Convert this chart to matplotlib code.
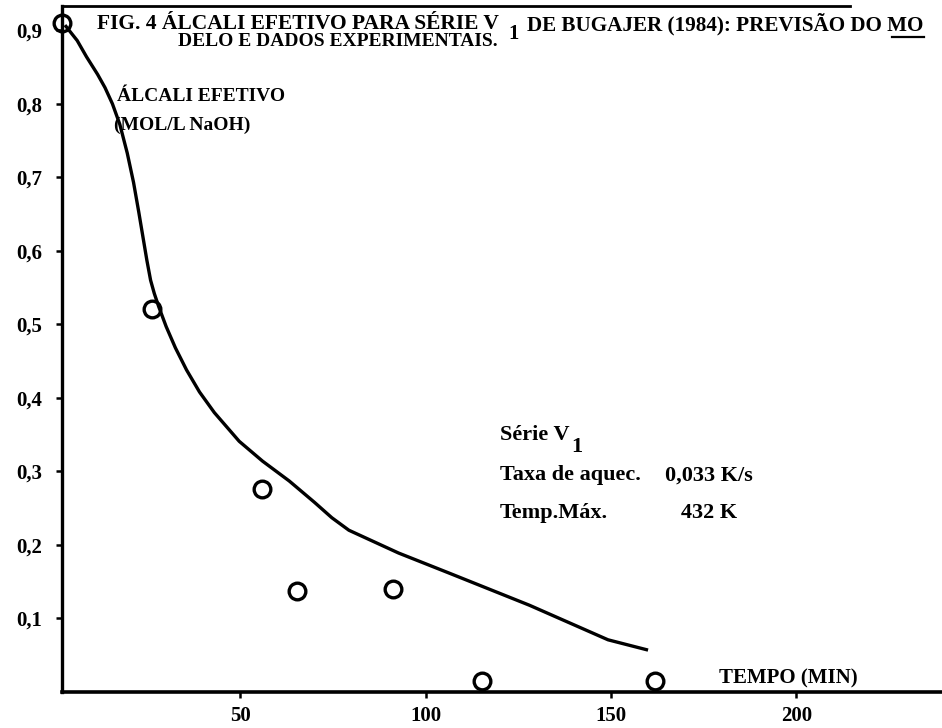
import matplotlib
matplotlib.use("Agg")
import matplotlib.pyplot as plt
from matplotlib.lines import Line2D

plt.rcParams['font.family'] = ['Liberation Serif', 'DejaVu Serif']
plt.rcParams['font.weight'] = 'bold'

# experimental data, serie V1 (Bugajer 1984)
tempo_exp = [1.9, 26.3, 55.8, 65.4, 91.1, 115.1, 162.0]
alcali_exp = [0.910, 0.521, 0.276, 0.138, 0.140, 0.015, 0.015]

# model prediction
tempo_mod = [2.7, 6.0, 8.5, 11.5, 13.5, 15.5, 17.5, 19.5, 21.2, 22.6, 23.8,
             24.8, 25.8, 26.8, 28.0, 30.0, 32.5, 35.5, 39.0, 43.0, 49.7,
             56.0, 63.2, 70.0, 74.7, 79.3, 92.7, 106.2, 128.0, 149.2, 160.0]
alcali_mod = [0.907, 0.886, 0.864, 0.840, 0.822, 0.800, 0.772, 0.733, 0.693,
              0.653, 0.617, 0.587, 0.560, 0.542, 0.524, 0.497, 0.468, 0.438,
              0.408, 0.380, 0.341, 0.314, 0.287, 0.258, 0.237, 0.220, 0.189,
              0.162, 0.118, 0.071, 0.057]

yticks = [0.1, 0.2, 0.3, 0.4, 0.5, 0.6, 0.7, 0.8, 0.9]
xticks = [50, 100, 150, 200]

W, H = 942, 728
fig = plt.figure(figsize=(W / 100, H / 100), dpi=100)
ax = fig.add_axes([62 / W, 36 / H, 880 / W, 686 / H])

ax.plot(tempo_mod, alcali_mod, color='black', lw=2.4, solid_capstyle='butt',
        solid_joinstyle='round')
ax.plot(tempo_exp, alcali_exp, 'o', ms=12, mfc='none', mec='black', mew=2.4,
        clip_on=False, zorder=3)

ax.set_xlim(1.9, 239.3)
ax.set_ylim(0, 0.933)
ax.set_xticks(xticks)
ax.set_xticklabels([str(v) for v in xticks])
ax.set_yticks(yticks)
ax.set_yticklabels([('%.1f' % v).replace('.', ',') for v in yticks])
ax.tick_params(axis='both', direction='out', length=4, width=1.8,
               labelsize=15, color='black')
ax.tick_params(axis='y', pad=10)
ax.tick_params(axis='x', pad=6)
ax.spines['right'].set_visible(False)
ax.spines['top'].set_visible(False)
ax.spines['left'].set_linewidth(2.4)
ax.spines['bottom'].set_linewidth(2.6)
# top frame line, stops short of the right edge
ax.add_line(Line2D([0, 0.895], [1, 1], transform=ax.transAxes, color='black',
                   lw=2.0, clip_on=False))


def px(x, y):
    return x / W, 1 - y / H


fig.canvas.draw()
r = fig.canvas.get_renderer()

# title, first line in pieces so V gets its dropped subscript
t1 = fig.text(*px(97, 24), 'FIG. 4 ÁLCALI EFETIVO PARA SÉRIE V', fontsize=15.5,
              va='center', ha='left')
bb = t1.get_window_extent(r)
sub = fig.text(bb.x1 / W + 10 / W, 1 - 34 / H, '1', fontsize=15, va='center')
bb2 = sub.get_window_extent(r)
t2 = fig.text(bb2.x1 / W + 8 / W, 1 - 24 / H, 'DE BUGAJER (1984): PREVISÃO DO MO',
              fontsize=15.2, va='center', ha='left')
bb3 = t2.get_window_extent(r)
fig.add_artist(Line2D([bb3.x1 / W - 32 / W, bb3.x1 / W], [1 - 37 / H, 1 - 37 / H],
                      color='black', lw=1.6, transform=fig.transFigure))
fig.text(*px(178, 42), 'DELO E DADOS EXPERIMENTAIS.', fontsize=14, va='center')

ax.text(16.8, 0.810, 'ÁLCALI EFETIVO', fontsize=14, va='center')
ax.text(16.0, 0.771, '(MOL/L NaOH)', fontsize=14, va='center')

fs = 16
s1 = ax.text(120.0, 0.350, 'Série V', fontsize=fs, va='center')
bs = s1.get_window_extent(r)
fig.text(bs.x1 / W + 2 / W, bs.y0 / H - 2 / H, '1', fontsize=fs, va='center')
ax.text(120.0, 0.295, 'Taxa de aquec.', fontsize=fs, va='center')
ax.text(164.5, 0.295, '0,033 K/s', fontsize=fs, va='center')
ax.text(120.0, 0.243, 'Temp.Máx.', fontsize=fs, va='center')
ax.text(169.0, 0.243, '432 K', fontsize=fs, va='center')
ax.text(179.2, 0.018, 'TEMPO (MIN)', fontsize=15, va='center')

fig.savefig('out.png', dpi=100)
